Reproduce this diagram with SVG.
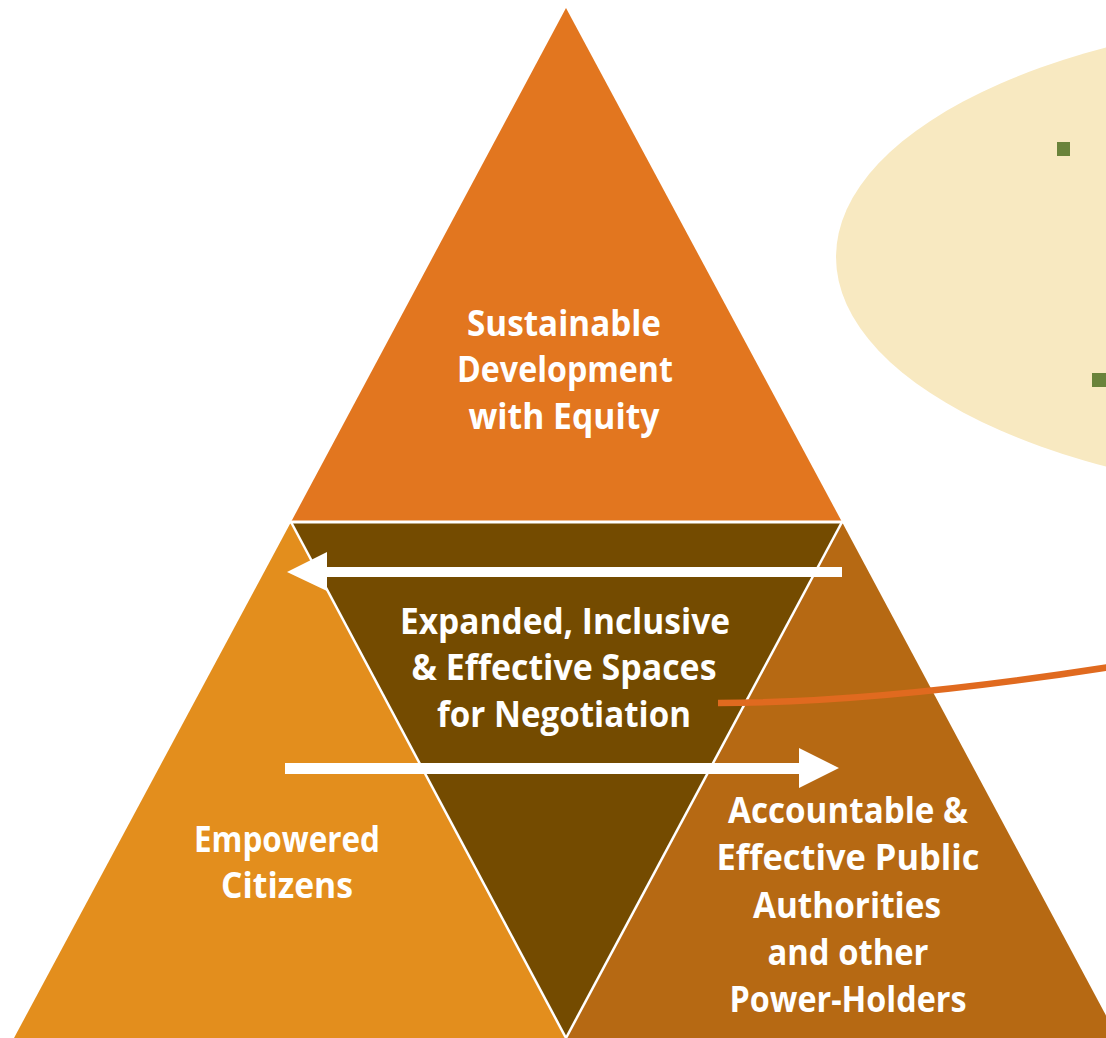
<svg xmlns="http://www.w3.org/2000/svg" width="1106" height="1038" viewBox="0 0 1106 1038">
<style>
.lbl{font-family:"Open Sans","DejaVu Sans",sans-serif;font-weight:700;font-size:36px;fill:#ffffff;text-anchor:middle}
.sep{stroke:#ffffff;fill:none}
.arrow{fill:#ffffff}
</style>
<rect width="1106" height="1038" fill="#ffffff"/>
<g id="ellipse-callout">
<ellipse cx="1396" cy="257" rx="560" ry="245" fill="#F8E9C1"/>
<rect x="1057" y="142" width="13" height="14" fill="#6A833B"/>
<rect x="1092" y="373" width="14" height="14" fill="#6A833B"/>
</g>
<g id="node-sustainable">
<polygon points="566,8 842,522 291,522" fill="#E2761F"/>
<text class="lbl" x="564" y="336" textLength="194" lengthAdjust="spacingAndGlyphs">Sustainable</text>
<text class="lbl" x="565" y="382" textLength="216" lengthAdjust="spacingAndGlyphs">Development</text>
<text class="lbl" x="564" y="429" textLength="191" lengthAdjust="spacingAndGlyphs">with Equity</text>
</g>
<g id="node-citizens">
<polygon points="291,522 568,1038 14,1038" fill="#E38E1D"/>
<text class="lbl" x="287" y="852" textLength="186" lengthAdjust="spacingAndGlyphs">Empowered</text>
<text class="lbl" x="287" y="898" textLength="132" lengthAdjust="spacingAndGlyphs">Citizens</text>
</g>
<g id="node-authorities">
<polygon points="842,522 1118,1038 564,1038" fill="#B66913"/>
<text class="lbl" x="848" y="823" textLength="240" lengthAdjust="spacingAndGlyphs">Accountable &amp;</text>
<text class="lbl" x="848" y="870" textLength="263" lengthAdjust="spacingAndGlyphs">Effective Public</text>
<text class="lbl" x="847" y="918" textLength="188" lengthAdjust="spacingAndGlyphs">Authorities</text>
<text class="lbl" x="848" y="965" textLength="161" lengthAdjust="spacingAndGlyphs">and other</text>
<text class="lbl" x="848" y="1012" textLength="237" lengthAdjust="spacingAndGlyphs">Power-Holders</text>
</g>
<g id="node-spaces">
<polygon points="291,522 842,522 566,1038" fill="#744B00"/>
<line class="sep" x1="290" y1="522" x2="843" y2="522" stroke-width="3"/>
<line class="sep" x1="291" y1="522" x2="566" y2="1038" stroke-width="2.5"/>
<line class="sep" x1="842" y1="522" x2="566" y2="1038" stroke-width="2.5"/>
<text class="lbl" x="565" y="634" textLength="330" lengthAdjust="spacingAndGlyphs">Expanded, Inclusive</text>
<text class="lbl" x="564" y="680" textLength="305" lengthAdjust="spacingAndGlyphs">&amp; Effective Spaces</text>
<text class="lbl" x="564" y="727" textLength="254" lengthAdjust="spacingAndGlyphs">for Negotiation</text>
</g>
<g id="connectors">
<polygon class="arrow" points="842,567 327,567 327,552 287,572 327,591 327,577 842,577"/>
<polygon class="arrow" points="285,763 799,763 799,748 839,768 799,788 799,774 285,774"/>
<path d="M718,703 Q880,703 1110,667" fill="none" stroke="#E06A1F" stroke-width="6.5"/>
</g>
</svg>
